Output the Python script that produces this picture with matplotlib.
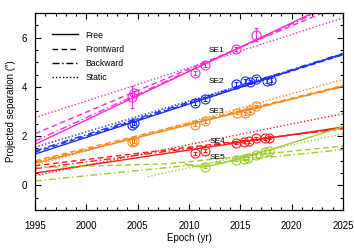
import matplotlib
matplotlib.use('Agg')
import matplotlib.pyplot as plt
from matplotlib.ticker import MultipleLocator
from matplotlib.lines import Line2D

plt.rcParams['font.family'] = ['Liberation Sans', 'DejaVu Sans']
plt.rcParams['font.size'] = 7

# sources and colours
sources = ['SE1', 'SE2', 'SE3', 'SE4', 'SE5']
colors = ['#ff2ad4', '#1f2eff', '#ff8a1c', '#ff1a1a', '#9acd2a']

# measured positions (epoch, separation, error)
obs_epoch = {
    'SE1': [2004.4, 2004.6, 2010.6, 2011.55, 2014.6, 2016.5],
    'SE2': [2004.4, 2004.6, 2010.6, 2011.55, 2014.6, 2015.45, 2015.9, 2016.5, 2017.55, 2017.95],
    'SE3': [2004.4, 2004.6, 2010.6, 2011.55, 2014.7, 2015.45, 2015.9, 2016.5],
    'SE4': [2010.6, 2011.55, 2014.6, 2015.4, 2015.8, 2016.5, 2017.4, 2017.8],
    'SE5': [2011.55, 2014.6, 2015.35, 2015.7, 2016.5, 2017.4, 2017.8],
}
obs_sep = {
    'SE1': [3.6, 3.73, 4.55, 4.87, 5.53, 6.12],
    'SE2': [2.47, 2.55, 3.33, 3.5, 4.11, 4.24, 4.2, 4.31, 4.24, 4.27],
    'SE3': [1.75, 1.82, 2.47, 2.6, 2.95, 2.93, 3.05, 3.22],
    'SE4': [1.31, 1.4, 1.73, 1.78, 1.8, 1.91, 1.91, 1.93],
    'SE5': [0.76, 1.05, 1.09, 1.11, 1.23, 1.36, 1.38],
}
obs_err = {
    'SE1': [0.45, 0.1, 0.08, 0.08, 0.08, 0.25],
    'SE2': [0.1, 0.08, 0.08, 0.08, 0.08, 0.08, 0.08, 0.08, 0.08, 0.08],
    'SE3': [0.12, 0.08, 0.06, 0.06, 0.06, 0.06, 0.06, 0.06],
    'SE4': [0.06, 0.06, 0.06, 0.06, 0.06, 0.06, 0.06, 0.06],
    'SE5': [0.06, 0.06, 0.06, 0.06, 0.06, 0.06, 0.06],
}

# model tracks: (epochs, separations)
free_epoch = {s: [1995, 2025] for s in sources}
free_epoch['SE5'] = [2009.6, 2010.5, 2011.5, 2013, 2015, 2017.5, 2020, 2025]
free_sep = {
    'SE1': [1.67, 7.58],
    'SE2': [1.27, 5.34],
    'SE3': [0.9, 4.03],
    'SE4': [0.5, 2.37],
    'SE5': [0.87, 0.78, 0.75, 0.88, 1.1, 1.4, 1.72, 2.38],
}
front_epoch = {s: [1995, 2025] for s in sources}
front_epoch['SE5'] = [1995, 2008, 2025]
front_sep = {
    'SE1': [2.1, 7.35],
    'SE2': [1.35, 5.3],
    'SE3': [1.0, 4.05],
    'SE4': [0.8, 2.3],
    'SE5': [0.72, 0.88, 1.6],
}
back_epoch = {s: [1995, 2025] for s in sources}
back_sep = {
    'SE1': [1.8, 7.5],
    'SE2': [1.4, 5.36],
    'SE3': [0.95, 4.0],
    'SE4': [0.68, 2.32],
    'SE5': [0.18, 1.45],
}
static_epoch = {s: [1995, 2025] for s in sources}
static_epoch['SE5'] = [2006, 2025]
static_sep = {
    'SE1': [2.75, 6.8],
    'SE2': [1.55, 5.3],
    'SE3': [0.82, 4.3],
    'SE4': [0.4, 2.91],
    'SE5': [0.35, 2.1],
}

label_pos = {'SE1': (2012.7, 5.47), 'SE2': (2012.7, 4.2), 'SE3': (2012.7, 3.0),
             'SE4': (2012.8, 1.8), 'SE5': (2012.8, 1.13)}

fig = plt.figure(figsize=(3.54, 2.48), dpi=100)
ax = fig.add_axes([0.099, 0.153, 0.87, 0.795])

for src, col in zip(sources, colors):
    ax.plot(static_epoch[src], static_sep[src], color=col, ls=(0, (1, 1.5)), lw=1.0)
    ax.plot(back_epoch[src], back_sep[src], color=col, ls=(0, (5, 2, 1, 2)), lw=1.0)
    ax.plot(front_epoch[src], front_sep[src], color=col, ls=(0, (4, 2.5)), lw=1.0)
    ax.plot(free_epoch[src], free_sep[src], color=col, ls='-', lw=1.0)
    ax.errorbar(obs_epoch[src], obs_sep[src], yerr=obs_err[src], fmt='o', ms=6.5,
                mfc='none', mec=col, mew=0.8, ecolor=col, elinewidth=0.8, capsize=1.5)
    ax.text(label_pos[src][0], label_pos[src][1], src, fontsize=6, ha='center', va='center')

ax.set_xlim(1995, 2025)
ax.set_ylim(-1, 7)
ax.xaxis.set_major_locator(MultipleLocator(5))
ax.xaxis.set_minor_locator(MultipleLocator(1))
ax.yaxis.set_major_locator(MultipleLocator(2))
ax.yaxis.set_minor_locator(MultipleLocator(0.5))
ax.tick_params(which='both', direction='in', top=True, right=True, width=0.8, labelsize=7)
ax.tick_params(axis='x', which='major', length=4, pad=8)
ax.tick_params(axis='y', which='major', length=4, pad=6)
ax.tick_params(which='minor', length=2)
for sp in ax.spines.values():
    sp.set_linewidth(0.9)

ax.set_xlabel('Epoch (yr)', fontsize=7, labelpad=1)
ax.set_ylabel('Projected separation (″)', fontsize=7, labelpad=4)

handles = [Line2D([], [], color='k', ls='-', lw=1.0),
           Line2D([], [], color='k', ls=(0, (4, 2.5)), lw=1.0),
           Line2D([], [], color='k', ls=(0, (5, 2, 1, 2)), lw=1.0),
           Line2D([], [], color='k', ls=(0, (1, 1.5)), lw=1.0)]
ax.legend(handles, ['Free', 'Frontward', 'Backward', 'Static'], loc='upper left',
          frameon=False, fontsize=6.2, handlelength=3.0, labelspacing=0.6,
          handletextpad=0.9, bbox_to_anchor=(0.03, 0.95))

fig.savefig('out.png', dpi=100)
